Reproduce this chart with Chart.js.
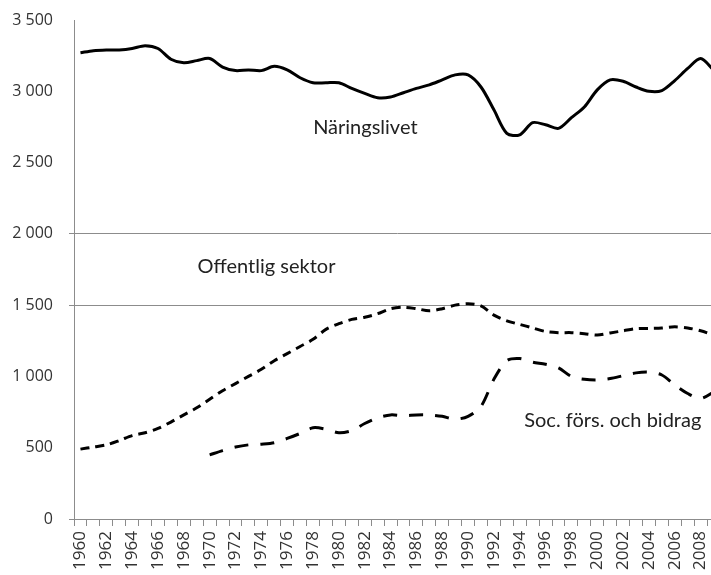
<!DOCTYPE html>
<html>
<head>
<meta charset="utf-8">
<script src="https://cdn.jsdelivr.net/npm/chart.js@4.4.1/dist/chart.umd.min.js"></script>
<style>
  html, body { margin: 0; padding: 0; background: #fff; overflow: hidden; width: 711px; height: 575px; }
  #c { position: absolute; left: 0; top: 0; }
</style>
</head>
<body>
<canvas id="c" width="740" height="575"></canvas>
<script>
const years = ['1960','1961','1962','1963','1964','1965','1966','1967','1968','1969',
  '1970','1971','1972','1973','1974','1975','1976','1977','1978','1979',
  '1980','1981','1982','1983','1984','1985','1986','1987','1988','1989',
  '1990','1991','1992','1993','1994','1995','1996','1997','1998','1999',
  '2000','2001','2002','2003','2004','2005','2006','2007','2008','2009'];

const naringslivet = [3270,3285,3290,3290,3300,3320,3300,3225,3200,3215,
  3230,3170,3145,3150,3145,3175,3150,3095,3060,3060,
  3060,3020,2985,2955,2960,2990,3020,3045,3080,3115,
  3115,3030,2870,2705,2695,2780,2765,2740,2815,2890,
  3010,3080,3070,3030,3000,3005,3075,3160,3230,3150];

const offentligSektor = [490,505,520,550,585,605,635,680,730,780,
  840,900,950,1000,1050,1110,1160,1210,1260,1330,
  1370,1400,1415,1440,1475,1485,1475,1460,1475,1500,
  1510,1495,1430,1390,1365,1340,1315,1307,1307,1300,
  1290,1305,1320,1335,1337,1340,1348,1340,1320,1290];

const socForsBidrag = [null,null,null,null,null,null,null,null,null,null,
  450,480,505,520,525,535,565,600,640,630,
  605,620,670,710,730,725,730,730,720,700,
  720,790,980,1110,1125,1100,1085,1060,1000,980,
  975,985,1005,1025,1030,1010,940,880,845,890];

const yTicks = [0,500,1000,1500,2000,2500,3000,3500];
const yGridValues = [0,1500,2000];

const seriesLabels = ['Näringslivet','Offentlig sektor','Soc. förs. och bidrag'];

// text annotations placed in data space: [category index, value]
const annotationSpots = [
  { text: 'Näringslivet', idx: 22.05, val: 2700 },
  { text: 'Offentlig sektor', idx: 14.4, val: 1725 },
  { text: 'Soc. förs. och bidrag', idx: 41.2, val: 645 }
];

function fmt(v) { return String(v).replace(/\B(?=(\d{3})+(?!\d))/g, ' '); }

const annotPlugin = {
  id: 'annot',
  afterDatasetsDraw(chart) {
    const ctx = chart.ctx;
    const xs = chart.scales.x, ys = chart.scales.y;
    ctx.save();
    ctx.font = '20px Lato';
    ctx.fillStyle = '#222';
    ctx.textAlign = 'center';
    ctx.textBaseline = 'alphabetic';
    annotationSpots.forEach(a => {
      ctx.fillText(a.text, xs.getPixelForValue(a.idx), ys.getPixelForValue(a.val));
    });
    ctx.restore();
  }
};

new Chart(document.getElementById('c'), {
  type: 'line',
  data: {
    labels: years,
    datasets: [
      { label: seriesLabels[0], data: naringslivet, borderColor: '#000', borderWidth: 3, pointRadius: 0, tension: 0.3, fill: false },
      { label: seriesLabels[1], data: offentligSektor, borderColor: '#000', borderWidth: 3, borderDash: [9, 6], pointRadius: 0, tension: 0.3, fill: false },
      { label: seriesLabels[2], data: socForsBidrag, borderColor: '#000', borderWidth: 3, borderDash: [14, 12], pointRadius: 0, tension: 0.3, fill: false }
    ]
  },
  options: {
    responsive: false,
    animation: false,
    devicePixelRatio: 1,
    layout: { padding: { top: 20, right: 20, left: 0, bottom: 0 } },
    plugins: { legend: { display: false }, tooltip: { enabled: false } },
    scales: {
      x: {
        type: 'category',
        offset: true,
        grid: { display: true, drawOnChartArea: false, drawTicks: true, tickLength: 7, offset: true, color: '#8c8c8c', tickColor: '#8c8c8c' },
        border: { display: true, color: '#8c8c8c', width: 1 },
        ticks: {
          autoSkip: false, maxRotation: 90, minRotation: 90, padding: 5,
          color: '#333', font: { family: 'Open Sans', size: 17 },
          callback: function(val, idx) { return idx % 2 === 0 ? years[idx] : ''; }
        },
        afterFit: s => { s.height = 56; }
      },
      y: {
        min: 0, max: 3500,
        afterBuildTicks: s => { s.ticks = yTicks.map(v => ({ value: v })); },
        grid: {
          drawTicks: true, tickLength: 5,
          color: c => yGridValues.includes(c.tick.value) ? '#8c8c8c' : 'rgba(0,0,0,0)',
          lineWidth: 1
        },
        border: { display: true, color: '#8c8c8c', width: 1 },
        ticks: { padding: 16, color: '#333', font: { family: 'Open Sans', size: 16 }, callback: v => fmt(v) },
        afterFit: s => { s.width = 74; s.paddingTop = 0; s.paddingBottom = 0; }
      }
    }
  },
  plugins: [annotPlugin]
});
</script>
</body>
</html>
